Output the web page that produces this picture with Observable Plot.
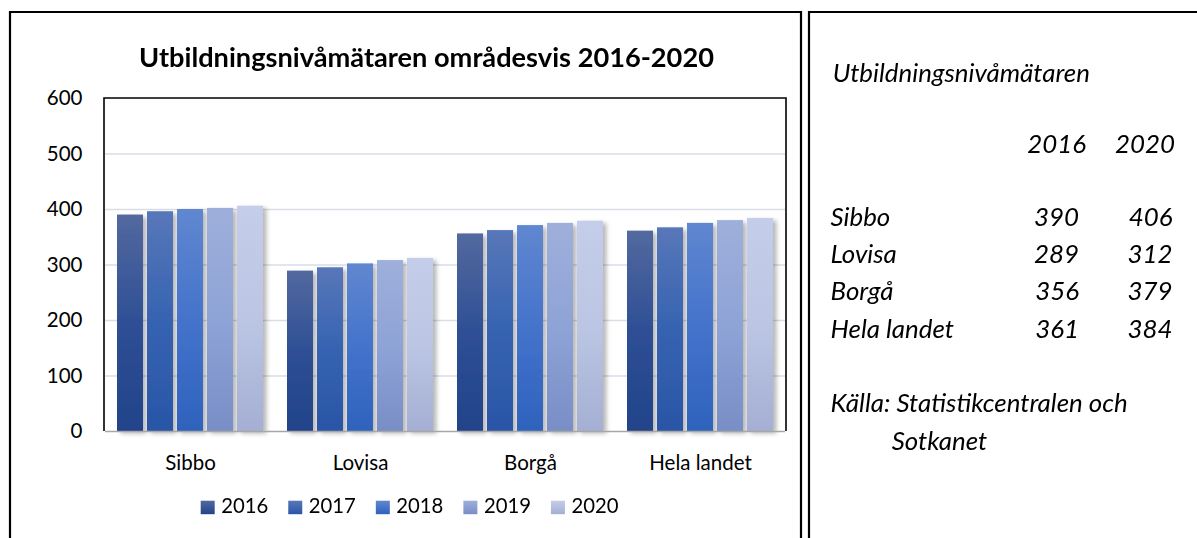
<!DOCTYPE html>
<html>
<head>
<meta charset="utf-8">
<script src="https://cdn.jsdelivr.net/npm/d3@7"></script>
<script src="https://cdn.jsdelivr.net/npm/@observablehq/plot@0.6"></script>
<style>
  html, body { margin: 0; padding: 0; background: #fff; }
  #wrap { position: relative; width: 1197px; height: 538px; overflow: hidden; background: #fff; }
  #wrap > svg { position: absolute; left: 0; top: 0; }
</style>
</head>
<body>
<div id="wrap"></div>
<script>
// ---- data ----
const categories = ["Sibbo", "Lovisa", "Borgå", "Hela landet"];
const years = ["2016", "2017", "2018", "2019", "2020"];
const sibbo = [390, 396, 400, 402, 406];
const lovisa = [289, 295, 302, 308, 312];
const borga = [356, 362, 371, 375, 379];
const helaLandet = [361, 367, 375, 380, 384];
const yTicks = [0, 100, 200, 300, 400, 500, 600];
const gridTicks = [100, 200, 300, 400, 500];
const chartTitle = "Utbildningsnivåmätaren områdesvis 2016-2020";
const sideTitle = "Utbildningsnivåmätaren";
const sideYears = ["2016", "2020"];
const sourceLines = ["Källa: Statistikcentralen och", "Sotkanet"];

// gradient stops per year (top, middle, bottom)
const gradients = {
  "2016": ["#53699f", "#2e4f95", "#21438a"],
  "2017": ["#5877b9", "#3663b1", "#2a55a6"],
  "2018": ["#6087d0", "#4473cb", "#2e62bd"],
  "2019": ["#9eafdb", "#8ea3d6", "#788ec6"],
  "2020": ["#c4cde9", "#bcc6e4", "#a4afd3"]
};

const series = [sibbo, lovisa, borga, helaLandet];
const rows = categories.flatMap((c, i) => years.map((y, j) => ({category: c, year: y, value: series[i][j]})));

const W = 1197, H = 538;
const frameL = 104, frameT = 98, frameR = 786, frameB = 431;
const FONT = "Lato, 'Open Sans', sans-serif";

const chart = Plot.plot({
  width: W, height: H,
  marginLeft: frameL, marginRight: W - frameR, marginTop: frameT, marginBottom: H - frameB,
  style: {fontFamily: FONT, fontSize: "20.5px", color: "#000", background: "transparent", overflow: "visible"},
  facet: {data: rows, x: "category", label: null},
  fx: {domain: categories, padding: 0, label: null, tickSize: 0, tickPadding: 23.5, axis: "bottom"},
  x: {domain: years, axis: null, paddingInner: 0.15, paddingOuter: 0.39},
  y: {domain: [0, 600], ticks: yTicks, tickSize: 0, tickPadding: 23, label: null, tickFormat: d => String(d)},
  color: {domain: years, range: years.map(y => `url(#grad-${y})`)},
  marks: [
    Plot.ruleY(gridTicks, {stroke: "#d9dde6", strokeWidth: 1.5}),
    Plot.barY(rows, {x: "year", y: "value", fill: "year"}),
    Plot.ruleY([0], {stroke: "#a6a6a6", strokeWidth: 1.6})
  ]
});

const svg = d3.select(chart);
const defs = svg.insert("defs", ":first-child");
years.forEach(y => {
  const g = defs.append("linearGradient").attr("id", `grad-${y}`)
    .attr("x1", 0).attr("y1", 0).attr("x2", 0).attr("y2", 1);
  const s = gradients[y];
  g.append("stop").attr("offset", "0%").attr("stop-color", s[0]);
  g.append("stop").attr("offset", "50%").attr("stop-color", s[1]);
  g.append("stop").attr("offset", "100%").attr("stop-color", s[2]);
});
const f = defs.append("filter").attr("id", "shadow").attr("x", "-20%").attr("y", "-10%").attr("width", "150%").attr("height", "120%");
f.append("feDropShadow").attr("dx", 3.5).attr("dy", 2.5).attr("stdDeviation", 2.2)
  .attr("flood-color", "#000").attr("flood-opacity", 0.28);
svg.selectAll("g[aria-label='bar']").attr("filter", "url(#shadow)");

document.getElementById("wrap").appendChild(chart);

// ---- overlay: borders, title, legend, side panel ----
const ov = d3.select("#wrap").append("svg")
  .attr("width", W).attr("height", H)
  .style("font-family", FONT);

// left box border
ov.append("path").attr("d", `M10,${H + 5}V12H801V${H + 5}`)
  .attr("fill", "none").attr("stroke", "#000").attr("stroke-width", 2.2);
// right box border
ov.append("path").attr("d", `M809,${H + 5}V12H${W + 5}`)
  .attr("fill", "none").attr("stroke", "#000").attr("stroke-width", 2.2);
// plot frame (top, left, right)
ov.append("path").attr("d", `M${frameL},${frameB}V${frameT}H${frameR}V${frameB}`)
  .attr("fill", "none").attr("stroke", "#000").attr("stroke-width", 1.6);

// title
ov.append("text").attr("x", 426.5).attr("y", 67).attr("text-anchor", "middle")
  .attr("font-weight", "bold").attr("font-size", 27.2).text(chartTitle);

// legend
const lDefs = ov.append("defs");
years.forEach(y => {
  const g = lDefs.append("linearGradient").attr("id", `lgrad-${y}`)
    .attr("x1", 0).attr("y1", 0).attr("x2", 0).attr("y2", 1);
  const s = gradients[y];
  g.append("stop").attr("offset", "0%").attr("stop-color", s[0]);
  g.append("stop").attr("offset", "100%").attr("stop-color", s[2]);
});
let lx = 200.7;
years.forEach(y => {
  ov.append("rect").attr("x", lx).attr("y", 500.7).attr("width", 14).attr("height", 13.5)
    .attr("fill", `url(#lgrad-${y})`);
  const t = ov.append("text").attr("x", lx + 20.5).attr("y", 513).attr("font-size", 20.3).text(y);
  lx += 20.5 + t.node().getComputedTextLength() + 20;
});

// side panel
const side = ov.append("g").attr("font-style", "italic").attr("font-size", 25.9);
side.append("text").attr("x", 832.7).attr("y", 81.7).text(sideTitle);
side.append("text").attr("x", 1086).attr("y", 153).attr("text-anchor", "end").text(sideYears[0]);
side.append("text").attr("x", 1175).attr("y", 153).attr("text-anchor", "end").text(sideYears[1]);
const rowBase = [225.7, 263.3, 300, 337.7];
categories.forEach((c, i) => {
  side.append("text").attr("x", 830.5).attr("y", rowBase[i]).text(c);
  side.append("text").attr("x", 1079).attr("y", rowBase[i]).attr("text-anchor", "end").text(String(series[i][0]));
  side.append("text").attr("x", 1172.5).attr("y", rowBase[i]).attr("text-anchor", "end").text(String(series[i][4]));
});
side.append("text").attr("x", 830.5).attr("y", 411.7).text(sourceLines[0]);
side.append("text").attr("x", 891.7).attr("y", 450).text(sourceLines[1]);
</script>
</body>
</html>
